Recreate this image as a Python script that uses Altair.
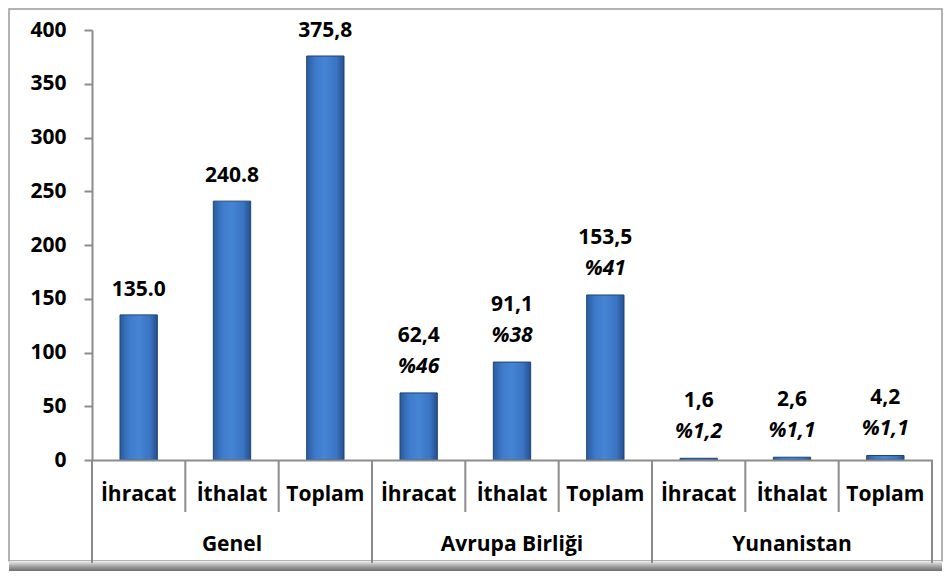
import altair as alt
import pandas as pd

# ---- data ----
groups = ["Genel"] * 3 + ["Avrupa Birliği"] * 3 + ["Yunanistan"] * 3
items = ["İhracat", "İthalat", "Toplam"] * 3
values = [135.0, 240.8, 375.8, 62.4, 91.1, 153.5, 1.6, 2.6, 4.2]
value_labels = ["135.0", "240.8", "375,8", "62,4", "91,1", "153,5", "1,6", "2,6", "4,2"]
pct_labels = ["", "", "", "%46", "%38", "%41", "%1,2", "%1,1", "%1,1"]
group_names = ["Genel", "Avrupa Birliği", "Yunanistan"]
y_ticks = [0, 50, 100, 150, 200, 250, 300, 350, 400]

FONT = "Open Sans"
FS = 21
AXIS_GRAY = "#8c8c8c"
W, H = 840, 430

n = len(values)
bars = pd.DataFrame({
    "group": groups,
    "item": items,
    "value": values,
    "vlabel": value_labels,
    "pct": pct_labels,
    "start": [i + 0.3 for i in range(n)],
    "end": [i + 0.7 for i in range(n)],
    "center": [i + 0.5 for i in range(n)],
})
bars["has_pct"] = bars["pct"] != ""

small_sep = pd.DataFrame({"pos": [i for i in range(1, n) if i % 3 != 0]})
big_sep = pd.DataFrame({"pos": [0, 3, 6, 9]})
grp = pd.DataFrame({"name": group_names, "center": [1.5, 4.5, 7.5]})

xscale = alt.Scale(domain=[0, n], nice=False, zero=False)
yscale = alt.Scale(domain=[0, 400], nice=False)

# frame + shadow (decoration)
frame = alt.Chart(pd.DataFrame({"a": [0]})).mark_rect(
    fill="white", stroke="#9a9a9a", strokeWidth=1.5
).encode(x=alt.value(-83), x2=alt.value(850), y=alt.value(-21), y2=alt.value(531))

shadow = alt.Chart(pd.DataFrame({"a": [0]})).mark_rect(
    fill=alt.Gradient(gradient="linear", x1=0, x2=0, y1=0, y2=1,
                      stops=[alt.GradientStop(color="#f0f0f0", offset=0),
                             alt.GradientStop(color="#9a9a9a", offset=0.6),
                             alt.GradientStop(color="#6e6e6e", offset=1)])
).encode(x=alt.value(-83), x2=alt.value(850), y=alt.value(531), y2=alt.value(541))

bar_fill = alt.Gradient(
    gradient="linear", x1=0, x2=1, y1=0, y2=0,
    stops=[alt.GradientStop(color="#2b5c9e", offset=0),
           alt.GradientStop(color="#3f7bcc", offset=0.25),
           alt.GradientStop(color="#4584d4", offset=0.5),
           alt.GradientStop(color="#3a74c2", offset=0.8),
           alt.GradientStop(color="#264f8c", offset=1)])

base = alt.Chart(bars)

bar_layer = base.mark_bar(fill=bar_fill, stroke="#1d4478", strokeWidth=1).encode(
    x=alt.X("start:Q", scale=xscale,
            axis=alt.Axis(labels=False, ticks=False, grid=False, title=None,
                          domainColor=AXIS_GRAY, domainWidth=2, zindex=1)),
    x2="end:Q",
    y=alt.Y("value:Q", scale=yscale,
            axis=alt.Axis(values=y_ticks, tickSize=8, labelPadding=18,
                          labelFontSize=FS, labelFontWeight="bold", labelColor="black",
                          labelFont=FONT, domainColor=AXIS_GRAY, tickColor=AXIS_GRAY,
                          domainWidth=2, tickWidth=2, grid=False, title=None, zindex=1)),
    y2=alt.datum(0),
)

val_nopct = base.transform_filter("!datum.has_pct").mark_text(
    font=FONT, fontSize=FS, fontWeight="bold", color="black", baseline="middle", dy=-25
).encode(x=alt.X("center:Q", scale=xscale), y=alt.Y("value:Q", scale=yscale), text="vlabel:N")

val_pct = base.transform_filter("datum.has_pct").mark_text(
    font=FONT, fontSize=FS, fontWeight="bold", color="black", baseline="middle", dy=-57
).encode(x=alt.X("center:Q", scale=xscale), y=alt.Y("value:Q", scale=yscale), text="vlabel:N")

pct_text = base.transform_filter("datum.has_pct").mark_text(
    font=FONT, fontSize=FS, fontWeight="bold", fontStyle="italic", color="black",
    baseline="middle", dy=-26
).encode(x=alt.X("center:Q", scale=xscale), y=alt.Y("value:Q", scale=yscale), text="pct:N")

item_text = base.mark_text(
    font=FONT, fontSize=FS, fontWeight="bold", color="black", baseline="middle"
).encode(x=alt.X("center:Q", scale=xscale), y=alt.value(465), text="item:N")

group_text = alt.Chart(grp).mark_text(
    font=FONT, fontSize=FS, fontWeight="bold", color="black", baseline="middle"
).encode(x=alt.X("center:Q", scale=xscale), y=alt.value(515), text="name:N")

small_rules = alt.Chart(small_sep).mark_rule(color=AXIS_GRAY, strokeWidth=2).encode(
    x=alt.X("pos:Q", scale=xscale), y=alt.value(H), y2=alt.value(482))

big_rules = alt.Chart(big_sep).mark_rule(color=AXIS_GRAY, strokeWidth=2).encode(
    x=alt.X("pos:Q", scale=xscale), y=alt.value(H), y2=alt.value(533))

chart = alt.layer(
    frame, shadow, small_rules, big_rules, bar_layer, val_nopct, val_pct, pct_text,
    item_text, group_text
).properties(
    width=W, height=H,
    autosize=alt.AutoSizeParams(type="none"),
    padding={"left": 84, "top": 22, "right": 11, "bottom": 111},
    background="white",
).configure_view(stroke=None)

chart.save("out.html", embed_options={"renderer": "svg", "actions": False})
